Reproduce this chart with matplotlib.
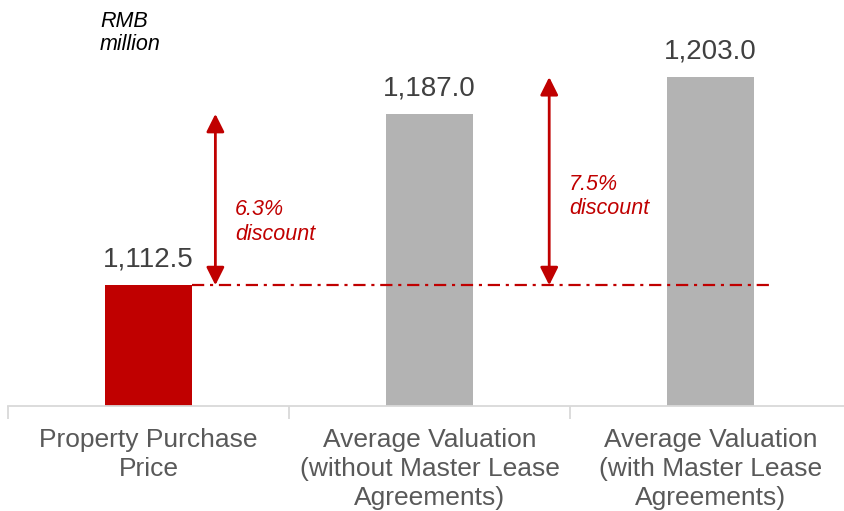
"""Purchase price vs. average valuations bar chart -> out.png"""

import matplotlib

matplotlib.use("Agg")
import matplotlib.pyplot as plt

plt.rcParams["font.family"] = ["Liberation Sans", "DejaVu Sans"]

categories = [
    "Property Purchase\nPrice",
    "Average Valuation\n(without Master Lease\nAgreements)",
    "Average Valuation\n(with Master Lease\nAgreements)",
]
values = [1112.5, 1187.0, 1203.0]
value_labels = ["1,112.5", "1,187.0", "1,203.0"]
discount_labels = ["6.3%\ndiscount", "7.5%\ndiscount"]

RED = "#c00000"
GREY = "#b3b3b3"

fig = plt.figure(figsize=(8.44, 5.11), dpi=100)
ax = fig.add_axes([8 / 844, 105 / 511, 843 / 844, 406 / 511])
ax.set_xlim(-0.5, 2.5)
ax.set_ylim(1060, 1236.5)

xs = list(range(len(values)))
ax.bar(xs, values, width=0.313, bottom=0, color=[RED, GREY, GREY], zorder=2)

for x, v, lab in zip(xs, values, value_labels):
    ax.annotate(lab, (x, v), xytext=(0, 9), textcoords="offset points",
                ha="center", va="bottom", fontsize=20, color="#404040")

# dash-dot reference line at purchase price
ax.plot([0.156, 2.21], [values[0], values[0]], color=RED, lw=1.6,
        linestyle=(0, (5.5, 2.6, 1.4, 2.6)), zorder=3)

# discount arrows
arrow_x = [0.238, 1.426]
text_y = [1140, 1151]
for ax_x, top, ty, lab in zip(arrow_x, values[1:], text_y, discount_labels):
    ax.annotate("", xy=(ax_x, top), xytext=(ax_x, values[0]),
                arrowprops=dict(arrowstyle="<|-|>", color=RED, lw=2,
                                mutation_scale=27, shrinkA=0, shrinkB=0),
                zorder=4)
    ax.text(ax_x + 0.07, ty, lab, color=RED, fontsize=15.5, style="italic",
            ha="left", va="center", linespacing=1.2)

ax.text(100 / 844, 1 - 11 / 511, "RMB\nmillion", transform=fig.transFigure,
        fontsize=15.5, style="italic", ha="left", va="top", color="black",
        linespacing=1.15)

for s in ["top", "right", "left"]:
    ax.spines[s].set_visible(False)
ax.spines["bottom"].set_color("#d9d9d9")
ax.spines["bottom"].set_linewidth(1.3)
ax.set_yticks([])
ax.set_xticks([-0.5, 0.5, 1.5, 2.5])
ax.set_xticklabels([])
ax.tick_params(axis="x", length=9, color="#d9d9d9", width=1.3)
ax.set_xticks(xs, minor=True)
ax.set_xticklabels(categories, minor=True, fontsize=19, color="#595959",
                   linespacing=1.27)
ax.tick_params(axis="x", which="minor", length=0, pad=16)

fig.savefig("out.png", dpi=100)
